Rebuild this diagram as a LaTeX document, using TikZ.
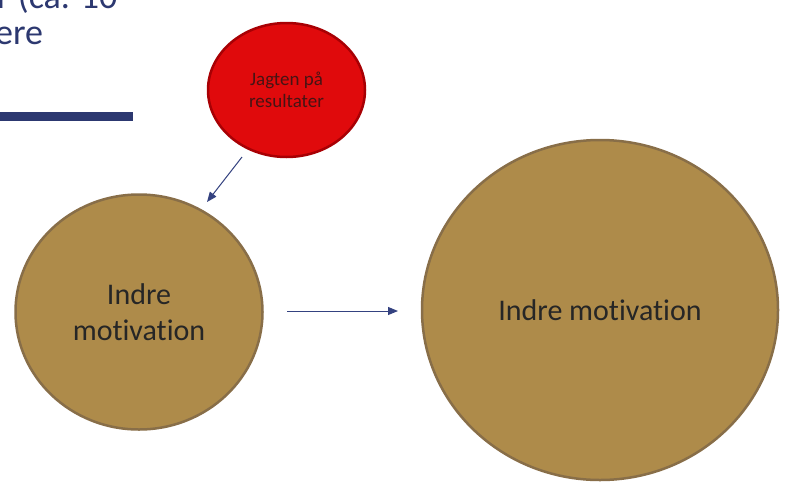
\documentclass[tikz,border=0pt]{standalone}
\usepackage{fontspec}
\setmainfont[Ligatures=NoCommon]{Carlito}
\usetikzlibrary{shapes.geometric,arrows.meta}
\definecolor{navy}{RGB}{44,56,112}
\definecolor{arrowblue}{RGB}{52,66,128}
\definecolor{goldfill}{RGB}{174,139,74}
\definecolor{golddraw}{RGB}{136,110,72}
\definecolor{redfill}{RGB}{224,10,12}
\definecolor{reddraw}{RGB}{168,0,4}
\definecolor{textdark}{RGB}{38,38,38}
\definecolor{redtext}{RGB}{70,20,20}
\begin{document}
\begin{tikzpicture}[x=1pt,y=-1pt,
  blob/.style={ellipse,inner sep=0pt,line width=2.5pt,fill=goldfill,draw=golddraw,
    text=textdark,align=center},
  goal/.style={ellipse,inner sep=0pt,line width=2.5pt,fill=redfill,draw=reddraw,
    text=redtext,align=center,font=\fontsize{19}{22}\selectfont},
  conn/.style={draw=arrowblue,line width=1pt,-{Triangle[length=10pt,width=8pt]}},
  heading/.style={anchor=base west,inner sep=0pt,text=navy,font=\fontsize{36}{40}\selectfont}]
\useasboundingbox (0,0) rectangle (786,482);
\fill[white] (0,0) rectangle (786,482);

% title text running off the top-left corner, and its rule
\node[heading] (h1) at (-3,8) {r (ca. 10};
\node[heading] (h2) at (-5,44) {ere};
\fill[navy] (0,112) rectangle (133,121);

% circles
\node[goal,minimum width=157pt,minimum height=134pt] (goal) at (286.5,90)
  {Jagten på\\resultater};
\node[blob,minimum width=247pt,minimum height=235pt,
  font=\fontsize{30}{36}\selectfont] (small) at (139,312) {Indre\\motivation};
\node[blob,minimum width=356pt,minimum height=340pt,
  font=\fontsize{30}{36}\selectfont] (big) at (600,310) {Indre motivation};

% connector end points, set off from the circles
\coordinate (d1) at (242,157);
\coordinate (d2) at (207,202);
\coordinate (h0) at (287,311);
\coordinate (hx) at (398,311);
\draw[conn] (d1) -- (d2);
\draw[conn] (h0) -- (hx);
\end{tikzpicture}
\end{document}
